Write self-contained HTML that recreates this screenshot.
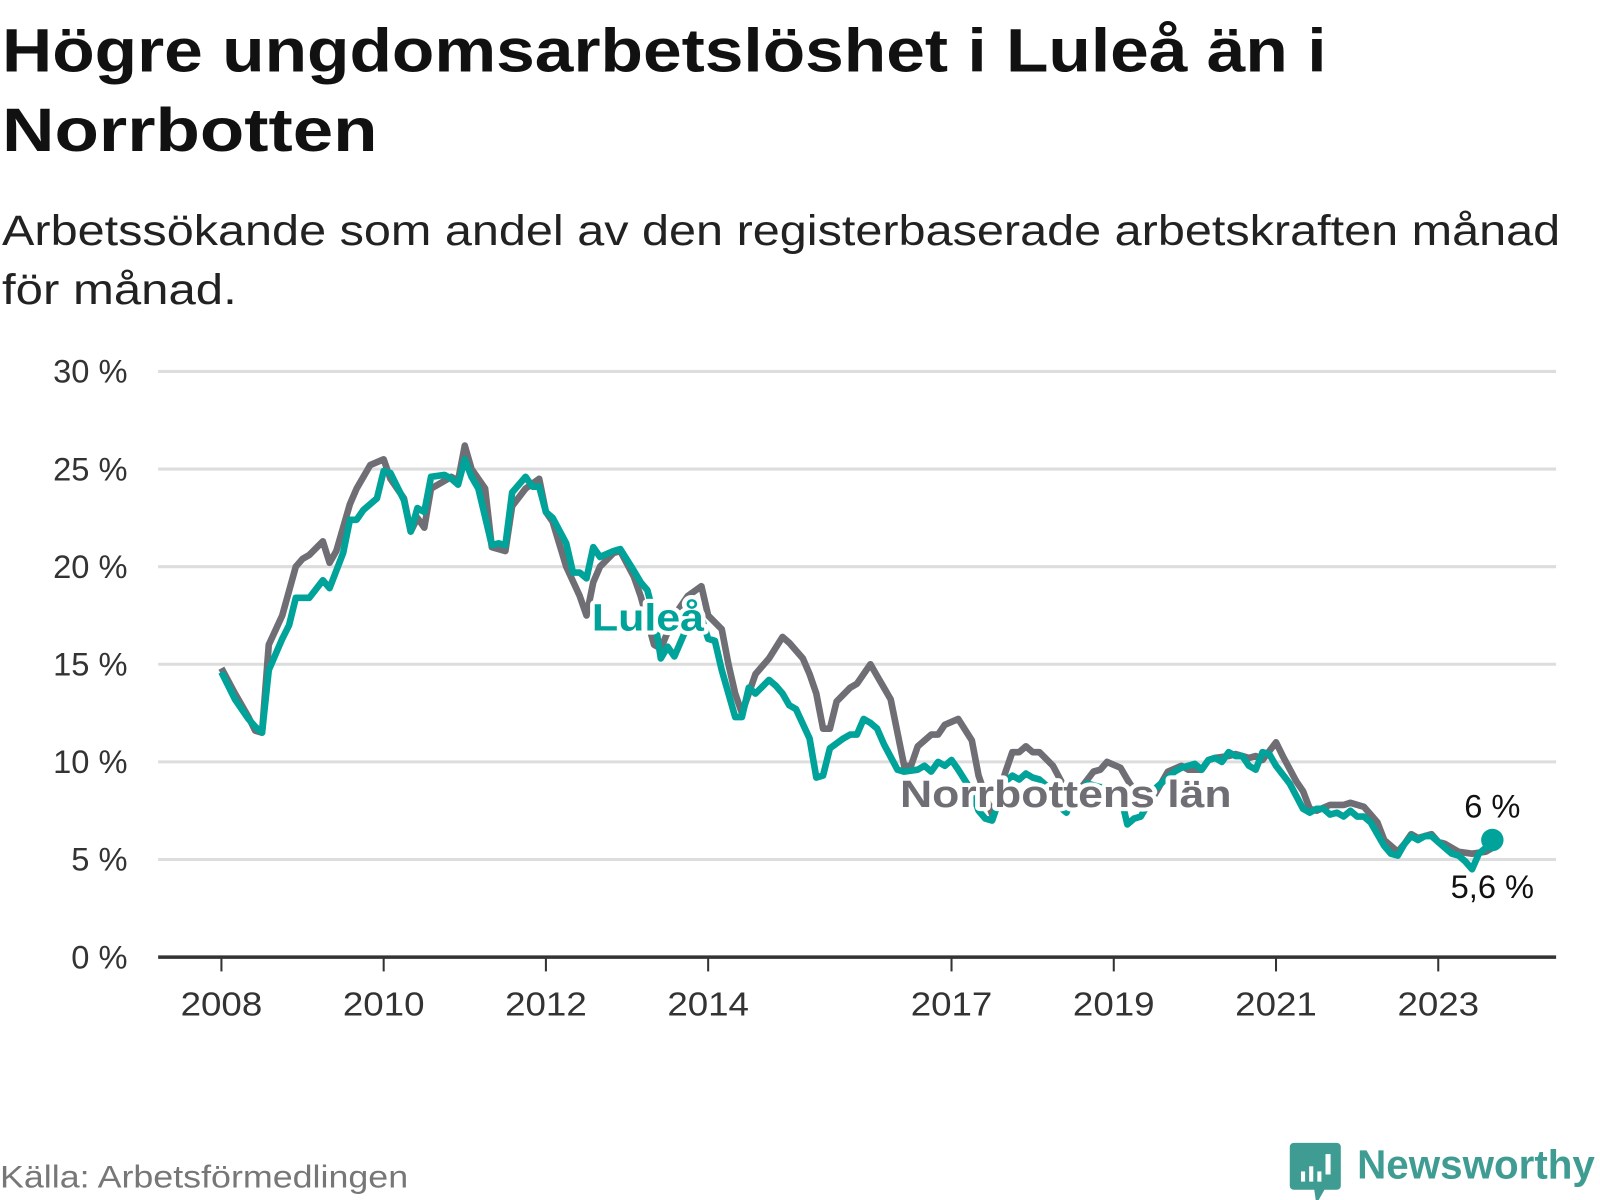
<!DOCTYPE html>
<html><head><meta charset="utf-8">
<style>
body{margin:0;background:#fff;}
svg{display:block;font-family:"Liberation Sans","DejaVu Sans",sans-serif;}
.halo{paint-order:stroke;stroke:#fff;stroke-width:8px;stroke-linejoin:round;}
</style></head>
<body>
<svg id="chart" width="1600" height="1200" viewBox="0 0 1600 1200" xmlns="http://www.w3.org/2000/svg">
<g transform="scale(1.0204)">
<text x="2" y="70" font-size="60" font-weight="bold" fill="#111" textLength="1298" lengthAdjust="spacingAndGlyphs">Högre ungdomsarbetslöshet i Luleå än i</text>
<text x="2" y="148" font-size="60" font-weight="bold" fill="#111" textLength="368" lengthAdjust="spacingAndGlyphs">Norrbotten</text>
<text x="2" y="240" font-size="42" fill="#222" textLength="1527" lengthAdjust="spacingAndGlyphs">Arbetssökande som andel av den registerbaserade arbetskraften månad</text>
<text x="2" y="298" font-size="42" fill="#222" textLength="230" lengthAdjust="spacingAndGlyphs">för månad.</text>
<g id="grid"></g>
<g id="xaxis"></g>
<g id="series"></g>
<text x="580" y="618" font-size="37" font-weight="bold" fill="#00a39a" class="halo" textLength="110" lengthAdjust="spacingAndGlyphs">Luleå</text>
<text x="882" y="791" font-size="37" font-weight="bold" fill="#6e6e74" class="halo" textLength="325" lengthAdjust="spacingAndGlyphs">Norrbottens län</text>
<g id="endlabels"></g>
<text x="0" y="1164" font-size="31" fill="#777" textLength="400" lengthAdjust="spacingAndGlyphs">Källa: Arbetsförmedlingen</text>
<g>
<path d="M1268 1120 h42 a4 4 0 0 1 4 4 v38 a4 4 0 0 1 -4 4 h-12 l-8 14 l-2 -14 h-20 a4 4 0 0 1 -4 -4 v-38 a4 4 0 0 1 4 -4z" fill="#3e9c92"/>
<rect x="1275" y="1148" width="4" height="10" fill="#fff"/><rect x="1283" y="1143" width="4" height="15" fill="#fff"/><rect x="1291" y="1148" width="4" height="10" fill="#fff"/><rect x="1299" y="1131" width="5" height="20" fill="#fff"/>
<text x="1330" y="1155" font-size="40" font-weight="bold" fill="#3e9c92" textLength="233" lengthAdjust="spacingAndGlyphs">Newsworthy</text>
</g>
</g>
</svg>
<script>
const yTicks=[0,5,10,15,20,25,30];
const yearTicks=[2008,2010,2012,2014,2017,2019,2021,2023];
const norrMonths=[0,2,4,5,6,7,9,11,12,13,15,16,17,19,20,22,24,25,27,28,29,30,31,34,35,36,37,39,40,42,43,45,47,48,49,51,53,54,55,56,58,59,61,62,64,65,67,69,71,72,74,75,76,77,79,81,83,84,86,87,88,89,90,91,93,94,96,97,99,100,101,102,103,105,106,107,109,111,112,114,116,117,118,119,120,121,123,125,127,129,130,131,133,134,136,138,140,142,143,145,146,147,149,150,152,153,154,156,157,159,160,161,162,164,165,166,167,169,170,171,172,174,175,176,177,179,180,181,183,185,187,188];
const norrValues=[14.8,13.5,12.3,11.6,11.5,16,17.5,20,20.4,20.6,21.3,20.2,20.8,23.2,24,25.2,25.5,24.5,23.5,21.8,22.5,22,24,24.6,24.4,26.2,25,24,21,20.8,23.1,24,24.5,22.8,22.3,20,18.5,17.5,19.2,20,20.7,20.8,19.5,18.5,16,15.8,17.5,18.5,19,17.5,16.8,15,13.5,12.5,14.5,15.3,16.4,16.1,15.3,14.5,13.5,11.7,11.7,13.1,13.8,14,15,14.4,13.2,11.5,9.8,9.8,10.8,11.4,11.4,11.9,12.2,11.1,9.3,7.3,9.5,10.5,10.5,10.8,10.5,10.5,9.8,8.5,8.6,9.5,9.6,10,9.7,9.1,8.0,8.3,9.5,9.8,9.6,9.6,10.1,10.2,10.3,10.4,10.2,10.3,10.1,11.0,10.3,9,8.5,7.6,7.5,7.8,7.8,7.8,7.9,7.7,7.3,6.9,6.0,5.4,5.8,6.3,6.1,6.3,5.9,5.8,5.4,5.3,5.4,5.6];
const luleMonths=[0,2,4,5,6,7,9,10,11,13,15,16,18,19,20,21,23,24,25,27,28,29,30,31,33,34,35,36,37,38,40,41,42,43,45,46,47,48,49,51,52,53,54,55,56,58,59,61,62,63,64,65,66,67,69,70,71,72,73,74,76,77,78,79,81,82,83,84,85,87,88,89,90,92,93,94,95,96,97,98,100,101,103,104,105,106,107,108,109,111,112,113,114,115,116,117,118,119,120,121,123,124,125,126,127,128,129,130,132,133,134,135,136,137,138,140,141,142,144,145,146,147,148,149,150,151,152,153,154,155,156,158,160,161,162,163,164,165,166,167,168,169,170,171,172,173,174,175,176,177,178,179,180,181,182,183,184,185,186,187,188];
const luleValues=[14.6,13.2,12.2,11.8,11.5,14.7,16.3,17,18.4,18.4,19.3,18.9,20.7,22.4,22.4,22.9,23.5,24.9,24.8,23.4,21.8,23,22.8,24.6,24.7,24.5,24.2,25.5,24.6,24,21.1,21.2,21.1,23.8,24.6,24.1,24.1,22.8,22.5,21.2,19.7,19.7,19.4,21,20.5,20.8,20.9,19.8,19.2,18.8,17.5,15.3,15.9,15.4,17,17.2,17.4,16.3,16.2,14.7,12.3,12.3,13.8,13.5,14.2,13.9,13.5,12.9,12.7,11.2,9.2,9.3,10.7,11.2,11.4,11.4,12.2,12,11.7,10.9,9.6,9.5,9.6,9.8,9.5,10,9.8,10.1,9.6,8.5,7.5,7.1,7,8,9,9.3,9.1,9.4,9.2,9.1,8.5,7.7,7.4,8.2,8.1,8.9,8.8,8.7,8.7,8.3,6.8,7.1,7.2,7.8,8.6,9.2,9.5,9.7,9.9,9.6,10.1,10.2,10,10.5,10.3,10.3,9.8,9.6,10.5,10.4,9.8,8.9,7.6,7.4,7.6,7.6,7.3,7.4,7.2,7.5,7.2,7.2,6.9,6.3,5.7,5.3,5.2,5.8,6.2,6,6.2,6.2,5.9,5.6,5.3,5.2,4.9,4.5,5.3,5.6,6];
const NS='http://www.w3.org/2000/svg';
const y=v=>938-v*(938-364)/30;
const xYear=yr=>217+(yr-2008)*79.5;
const xMonth=m=>217+m*79.5/12;
function mk(tag,attrs,parent){const e=document.createElementNS(NS,tag);for(const k in attrs)e.setAttribute(k,attrs[k]);parent.appendChild(e);return e;}
const grid=document.getElementById('grid');
yTicks.forEach(t=>{
  if(t>0){const l=mk('line',{x1:155,x2:1525,y1:y(t),y2:y(t),stroke:'#ddd','stroke-width':3},grid);
  
  }
  const tx=mk('text',{x:125,y:y(t)+11,'font-size':32,fill:'#333','text-anchor':'end'},grid);
  tx.textContent=t+' %';
  
  
});
const xa=document.getElementById('xaxis');
const ax=mk('line',{x1:155,x2:1525,y1:938,y2:938,stroke:'#333','stroke-width':3.5},xa);


yearTicks.forEach(yr=>{
  const tk=mk('line',{x1:xYear(yr),x2:xYear(yr),y1:938,y2:952,stroke:'#333','stroke-width':2},xa);
  
  
  const tx=mk('text',{x:xYear(yr),y:995,'font-size':33,fill:'#333','text-anchor':'middle',textLength:80,lengthAdjust:'spacingAndGlyphs'},xa);
  tx.textContent=yr;
  
  
});
const sg=document.getElementById('series');
function line(ms,vs,color,name){
  const d=ms.map((m,i)=>(i?'L':'M')+xMonth(m).toFixed(1)+' '+y(vs[i]).toFixed(1)).join(' ');
  const p=mk('path',{d:d,fill:'none',stroke:color,'stroke-width':6.5,'stroke-linejoin':'round'},sg);
  
  
}
line(norrMonths,norrValues,'#6e6e74','norrbotten-line');
line(luleMonths,luleValues,'#00a39a','lulea-line');
const el=document.getElementById('endlabels');
const lm=luleMonths[luleMonths.length-1],lv=luleValues[luleValues.length-1];
const nv=norrValues[norrValues.length-1];
const dot=mk('circle',{cx:xMonth(lm),cy:y(lv),r:11,fill:'#00a39a'},el);


const t1=mk('text',{x:xMonth(lm),y:y(lv)-22,'font-size':32,fill:'#111','text-anchor':'middle',class:'halo'},el);
t1.textContent=String(lv).replace('.',',')+' %';


const t2=mk('text',{x:xMonth(lm),y:y(nv)+49,'font-size':32,fill:'#111','text-anchor':'middle',class:'halo'},el);
t2.textContent=String(nv).replace('.',',')+' %';


</script>
</body></html>
